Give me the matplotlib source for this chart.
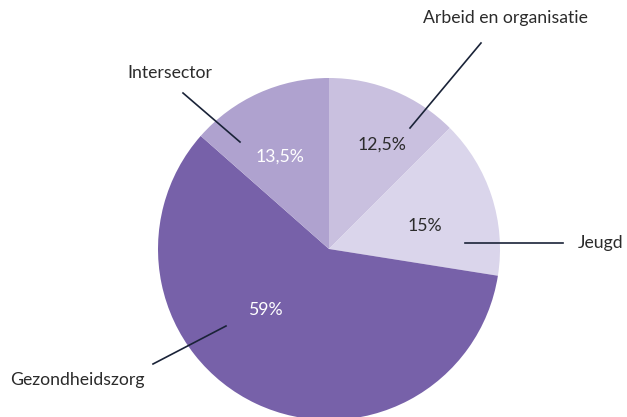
import matplotlib.pyplot as plt

# Data
labels = ['Arbeid en organisatie', 'Jeugd', 'Gezondheidszorg', 'Intersector']
values = [12.5, 15, 59, 13.5]
pct_text = ['12,5%', '15%', '59%', '13,5%']
colors = ['#c9c0df', '#dad5eb', '#7761a9', '#afa2cf']
pct_colors = ['#2b2b2b', '#2b2b2b', 'white', 'white']

plt.rcParams['font.family'] = ['Lato', 'DejaVu Sans']
FS = 12.7

W, H = 627, 417
fig = plt.figure(figsize=(W / 100, H / 100), dpi=100)
ax = fig.add_axes([0, 0, 1, 1])

# pixel -> data (y flipped)
def P(x, y):
    return x, H - y

cx, cy = P(329, 249)
ax.pie(values, colors=colors, startangle=90, counterclock=False,
       center=(cx, cy), radius=171, frame=True,
       wedgeprops=dict(linewidth=0))
ax.set_xlim(0, W)
ax.set_ylim(0, H)
ax.axis('off')

# percentage labels
pct_pos = [(382, 145), (425, 226), (266, 310), (280, 157)]
for t, c, (x, y) in zip(pct_text, pct_colors, pct_pos):
    ax.text(*P(x, y), t, color=c, fontsize=FS, ha='center', va='center')

# leader lines
lines = [((410, 128), (481, 43)),
         ((465, 243), (563, 243)),
         ((226, 326), (153, 364)),
         ((240, 142), (183, 93))]
for (x0, y0), (x1, y1) in lines:
    ax.plot([P(x0, y0)[0], P(x1, y1)[0]], [P(x0, y0)[1], P(x1, y1)[1]],
            color='#1a2338', lw=1.2)

# category labels
ax.text(*P(505, 18), labels[0], fontsize=FS, color='#2b2b2b', ha='center', va='center')
ax.text(*P(578, 243), labels[1], fontsize=FS, color='#2b2b2b', ha='left', va='center')
ax.text(*P(10, 380), labels[2], fontsize=FS, color='#2b2b2b', ha='left', va='center')
ax.text(*P(170, 73), labels[3], fontsize=FS, color='#2b2b2b', ha='center', va='center')

fig.savefig('out.png', dpi=100)
